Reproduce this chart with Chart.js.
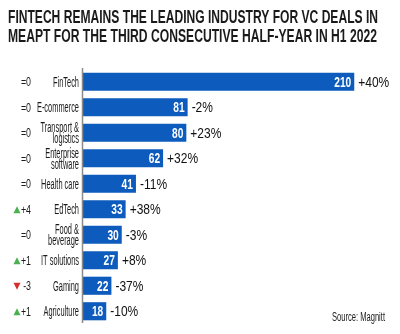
<!DOCTYPE html>
<html>
<head>
<meta charset="utf-8">
<script src="https://cdn.jsdelivr.net/npm/chart.js@4/dist/chart.umd.min.js"></script>
<style>
body { margin: 0; background: #fff; }
#wrap { width: 400px; height: 334px; }
</style>
</head>
<body>
<div id="wrap"><canvas id="chart" width="400" height="334"></canvas></div>
<script>
var titleLines = ['FINTECH REMAINS THE LEADING INDUSTRY FOR VC DEALS IN',
    'MEAPT FOR THE THIRD CONSECUTIVE HALF-YEAR IN H1 2022'];
var categories = [['FinTech'], ['E-commerce'], ['Transport &', 'logistics'], ['Enterprise', 'software'],
    ['Health care'], ['EdTech'], ['Food &', 'beverage'], ['IT solutions'], ['Gaming'], ['Agriculture']];
var deals = [210, 81, 80, 62, 41, 33, 30, 27, 22, 18];
var growth = ['+40%', '-2%', '+23%', '+32%', '-11%', '+38%', '-3%', '+8%', '-37%', '-10%'];
var rankChange = [0, 0, 0, 0, 0, 4, 0, 1, -3, 1];
var sourceText = 'Source: Magnitt';

var FONT = "'Liberation Sans', Arial, sans-serif";

function narrowText(ctx, text, x, y, sx, align) {
    ctx.save();
    ctx.translate(x, y);
    ctx.scale(sx, 1);
    ctx.textAlign = align;
    ctx.fillText(text, 0, 0);
    ctx.restore();
}

var labelsPlugin = {
    id: 'labels',
    afterDatasetsDraw: function(chart) {
        var ctx = chart.ctx;
        var meta = chart.getDatasetMeta(0);
        ctx.save();
        ctx.textBaseline = 'middle';
        meta.data.forEach(function(bar, i) {
            ctx.fillStyle = '#ffffff';
            ctx.font = 'bold 15px ' + FONT;
            narrowText(ctx, String(deals[i]), bar.x - 3, bar.y + 1, 0.68, 'right');
            ctx.fillStyle = '#111111';
            ctx.font = '15px ' + FONT;
            narrowText(ctx, growth[i], bar.x + 4, bar.y + 1, 0.8, 'left');
        });
        ctx.restore();
    },
    afterDraw: function(chart) {
        var ctx = chart.ctx;
        var area = chart.chartArea;
        var yScale = chart.scales.y;
        ctx.save();

        // title
        ctx.fillStyle = '#1a1a1a';
        ctx.font = 'bold 19px ' + FONT;
        ctx.textAlign = 'left';
        ctx.textBaseline = 'alphabetic';
        ctx.fillText(titleLines[0], 8, 23, 370);
        ctx.fillText(titleLines[1], 8, 42, 369);

        // axis line
        ctx.strokeStyle = '#8a8a8a';
        ctx.lineWidth = 1.5;
        ctx.beginPath();
        ctx.moveTo(area.left - 0.5, area.top - 1);
        ctx.lineTo(area.left - 0.5, area.bottom - 1);
        ctx.stroke();

        ctx.textBaseline = 'middle';
        categories.forEach(function(lines, i) {
            var y = yScale.getPixelForValue(i);
            ctx.fillStyle = '#1a1a1a';
            ctx.font = '14px ' + FONT;
            var start = y - (lines.length - 1) * 5.5 + 1;
            lines.forEach(function(line, j) {
                narrowText(ctx, line, area.left - 4, start + j * 11, 0.53, 'right');
            });

            // rank change
            var rc = rankChange[i];
            var txt = rc === 0 ? '=0' : (rc > 0 ? '+' + rc : String(rc));
            ctx.font = '13px ' + FONT;
            ctx.fillStyle = '#1a1a1a';
            narrowText(ctx, txt, 31, y + 1, 0.68, 'right');
            if (rc !== 0) {
                var tx = 17;
                ctx.beginPath();
                if (rc > 0) {
                    ctx.fillStyle = '#4caf50';
                    ctx.moveTo(tx - 3.5, y + 4);
                    ctx.lineTo(tx + 3.5, y + 4);
                    ctx.lineTo(tx, y - 3);
                } else {
                    ctx.fillStyle = '#d32f2f';
                    ctx.moveTo(tx - 3.5, y - 3);
                    ctx.lineTo(tx + 3.5, y - 3);
                    ctx.lineTo(tx, y + 4);
                }
                ctx.closePath();
                ctx.fill();
            }
        });

        // source
        ctx.fillStyle = '#1a1a1a';
        ctx.font = '12px ' + FONT;
        narrowText(ctx, sourceText, 385, 318, 0.63, 'right');
        ctx.restore();
    }
};

new Chart(document.getElementById('chart'), {
    type: 'bar',
    data: {
        labels: categories.map(function(c) { return c.join(' '); }),
        datasets: [{
            data: deals,
            backgroundColor: '#0d5bbd',
            borderWidth: 0,
            barPercentage: 0.71,
            categoryPercentage: 1
        }]
    },
    options: {
        indexAxis: 'y',
        responsive: false,
        animation: false,
        layout: { padding: { top: 69, bottom: 10, left: 83, right: 7 } },
        plugins: {
            legend: { display: false },
            tooltip: { enabled: false }
        },
        scales: {
            x: { display: false, min: 0, max: 240 },
            y: { display: false }
        }
    },
    plugins: [labelsPlugin]
});
</script>
</body>
</html>
